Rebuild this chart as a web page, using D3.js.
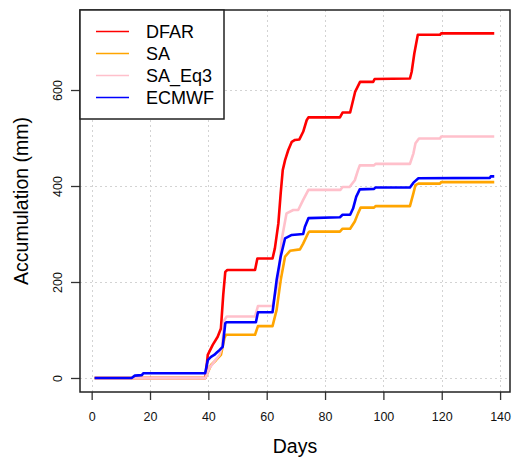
<!DOCTYPE html>
<html>
<head>
<meta charset="utf-8">
<script src="https://cdn.jsdelivr.net/npm/d3@7"></script>
<style>
  html, body { margin: 0; padding: 0; background: #fff; }
  svg { display: block; font-family: "Liberation Sans", Arial, sans-serif; }
</style>
</head>
<body>
<svg id="chart" width="516" height="464"></svg>
<script>
// ---- data: [day, accumulation (mm)] breakpoints ----
const seriesNames = ["DFAR", "SA", "SA_Eq3", "ECMWF"];
const seriesColors = ["#FF0000", "#FFA500", "#FFC0CB", "#0000FF"];

const DFAR = [[1,0],[39,0],[39.8,48],[41.5,69],[43.2,86],[44.3,103],[45.1,173],[45.8,221],[46.5,225],[56,225],[56.8,249],[62,249],[62.8,270],[64,322],[64.8,385],[65.5,433],[66.3,454],[67.4,475],[68.6,492],[69.7,496],[71.2,497],[72.5,513],[73.7,537],[74.3,543],[85.1,543],[86,553],[88.6,553],[90.3,596],[92,617],[96.5,617],[97,623],[109.1,624],[109.7,638],[110.6,676],[111.8,715],[119.4,715],[119.8,718],[138,718]];

const SA = [[1,0],[39,0],[40.9,27],[42.6,37],[44.3,48],[45.5,83],[46,90],[56,90],[57,108],[62,108],[63.4,142],[64.8,204],[66.3,253],[68,265],[71.4,268],[72.5,280],[74.3,303],[74.6,305],[85.1,305],[86,311],[88.6,311],[90.2,326],[91.3,343],[92.2,355],[96.8,355],[97.3,358],[109.1,358],[110.3,385],[111,402],[112,405],[119.4,405],[119.8,408],[138,408]];

const SA_Eq3 = [[1,0],[39,0],[40.3,20],[42,34],[43.8,48],[44.7,65],[45.5,121],[46.3,128],[56,128],[57,150],[62,150],[64,204],[65.1,287],[66.8,343],[69.1,350],[70.8,350],[72.5,371],[74.3,392],[85.3,392],[86,398],[88.4,398],[90.2,412],[91.3,433],[91.9,443],[96.8,443],[97.3,446],[109.1,446],[110.3,468],[111,489],[112.2,499],[119.4,499],[119.8,503],[138,503]];

const ECMWF = [[1,0],[13.7,0],[14.8,5],[17.2,6],[17.7,10],[38.9,10],[39.8,37],[40.9,44],[42,48],[42.9,53],[43.8,58],[44.9,65],[45.8,114],[46.2,116],[56.3,116],[57,137],[62,137],[63.4,204],[64.8,253],[66.3,291],[68.6,298],[72.5,300],[73.1,315],[74.3,333],[85.1,335],[86,340],[88.6,340],[89.6,353],[90.7,378],[91.9,393],[96.8,394],[97.3,397],[109.1,397],[110.3,407],[112,416],[136.5,417],[136.8,420],[138,420]];

const xTicks = [0, 20, 40, 60, 80, 100, 120, 140];
const yTicks = [0, 200, 400, 600];
const xTitle = "Days";
const yTitle = "Accumulation (mm)";

// ---- layout ----
const svg = d3.select("#chart");
const L = 80, R = 510, T = 10, B = 392;
const x = d3.scaleLinear().domain([-4.0, 143.4]).range([L, R]);
const y = d3.scaleLinear().domain([-29.2, 766.7]).range([B, T]);

// grid
const grid = svg.append("g").attr("stroke", "#d3d3d3").attr("stroke-width", 1).attr("stroke-dasharray", "2,3");
grid.selectAll("line.v").data(xTicks).join("line").attr("class", "v")
  .attr("x1", d => Math.round(x(d)) + 0.5).attr("x2", d => Math.round(x(d)) + 0.5)
  .attr("y1", T).attr("y2", B);
grid.selectAll("line.h").data(yTicks).join("line").attr("class", "h")
  .attr("x1", L).attr("x2", R)
  .attr("y1", d => Math.round(y(d)) + 0.5).attr("y2", d => Math.round(y(d)) + 0.5);

// series
const allSeries = [DFAR, SA, SA_Eq3, ECMWF];
const line = d3.line().x(d => x(d[0])).y(d => y(d[1]));
svg.append("g").selectAll("path").data(allSeries).join("path")
  .attr("d", line)
  .attr("fill", "none")
  .attr("stroke", (d, i) => seriesColors[i])
  .attr("stroke-width", 2.6)
  .attr("stroke-linejoin", "round");

// x axis
const xAxis = svg.append("g").attr("transform", `translate(0,${B})`)
  .call(d3.axisBottom(x).tickValues(xTicks).tickSize(8).tickPadding(12.5));
xAxis.select(".domain").remove();
xAxis.selectAll("line").attr("stroke", "#333").attr("stroke-width", 1.3);
xAxis.selectAll("text").attr("font-size", "12.5px").attr("fill", "#111")
  .attr("font-family", "'Liberation Sans', Arial, sans-serif");

// y axis
const yAxis = svg.append("g").attr("transform", `translate(${L},0)`)
  .call(d3.axisLeft(y).tickValues(yTicks).tickSize(9));
yAxis.select(".domain").remove();
yAxis.selectAll("line").attr("stroke", "#333").attr("stroke-width", 1.3);
yAxis.selectAll("text")
  .attr("x", null).attr("dy", null).attr("y", 0)
  .attr("text-anchor", "middle")
  .attr("transform", `translate(${61.7 - L},0) rotate(-90)`)
  .attr("font-size", "12.5px").attr("fill", "#111")
  .attr("font-family", "'Liberation Sans', Arial, sans-serif");

// titles
svg.append("text").attr("x", (L + R) / 2).attr("y", 453.3)
  .attr("text-anchor", "middle").attr("font-size", "19.5px").attr("fill", "#000")
  .text(xTitle);
svg.append("text")
  .attr("transform", `translate(28,${(T + B) / 2}) rotate(-90)`)
  .attr("text-anchor", "middle").attr("font-size", "19.5px").attr("fill", "#000")
  .text(yTitle);

// plot box
svg.append("rect").attr("x", L).attr("y", T).attr("width", R - L).attr("height", B - T)
  .attr("fill", "none").attr("stroke", "#222").attr("stroke-width", 1.5);

// legend
const lg = svg.append("g");
lg.append("rect").attr("x", L).attr("y", T).attr("width", 144).attr("height", 109)
  .attr("fill", "#fff").attr("stroke", "#222").attr("stroke-width", 1.5);
const rowsY = [31.5, 53.5, 75.5, 97.5];
seriesNames.forEach((name, i) => {
  lg.append("line").attr("x1", 96).attr("x2", 129).attr("y1", rowsY[i]).attr("y2", rowsY[i])
    .attr("stroke", seriesColors[i]).attr("stroke-width", 1.3);
  lg.append("text").attr("x", 146).attr("y", rowsY[i]).attr("dy", "0.36em")
    .attr("font-size", "18px").attr("fill", "#000").text(name);
});
</script>
</body>
</html>
